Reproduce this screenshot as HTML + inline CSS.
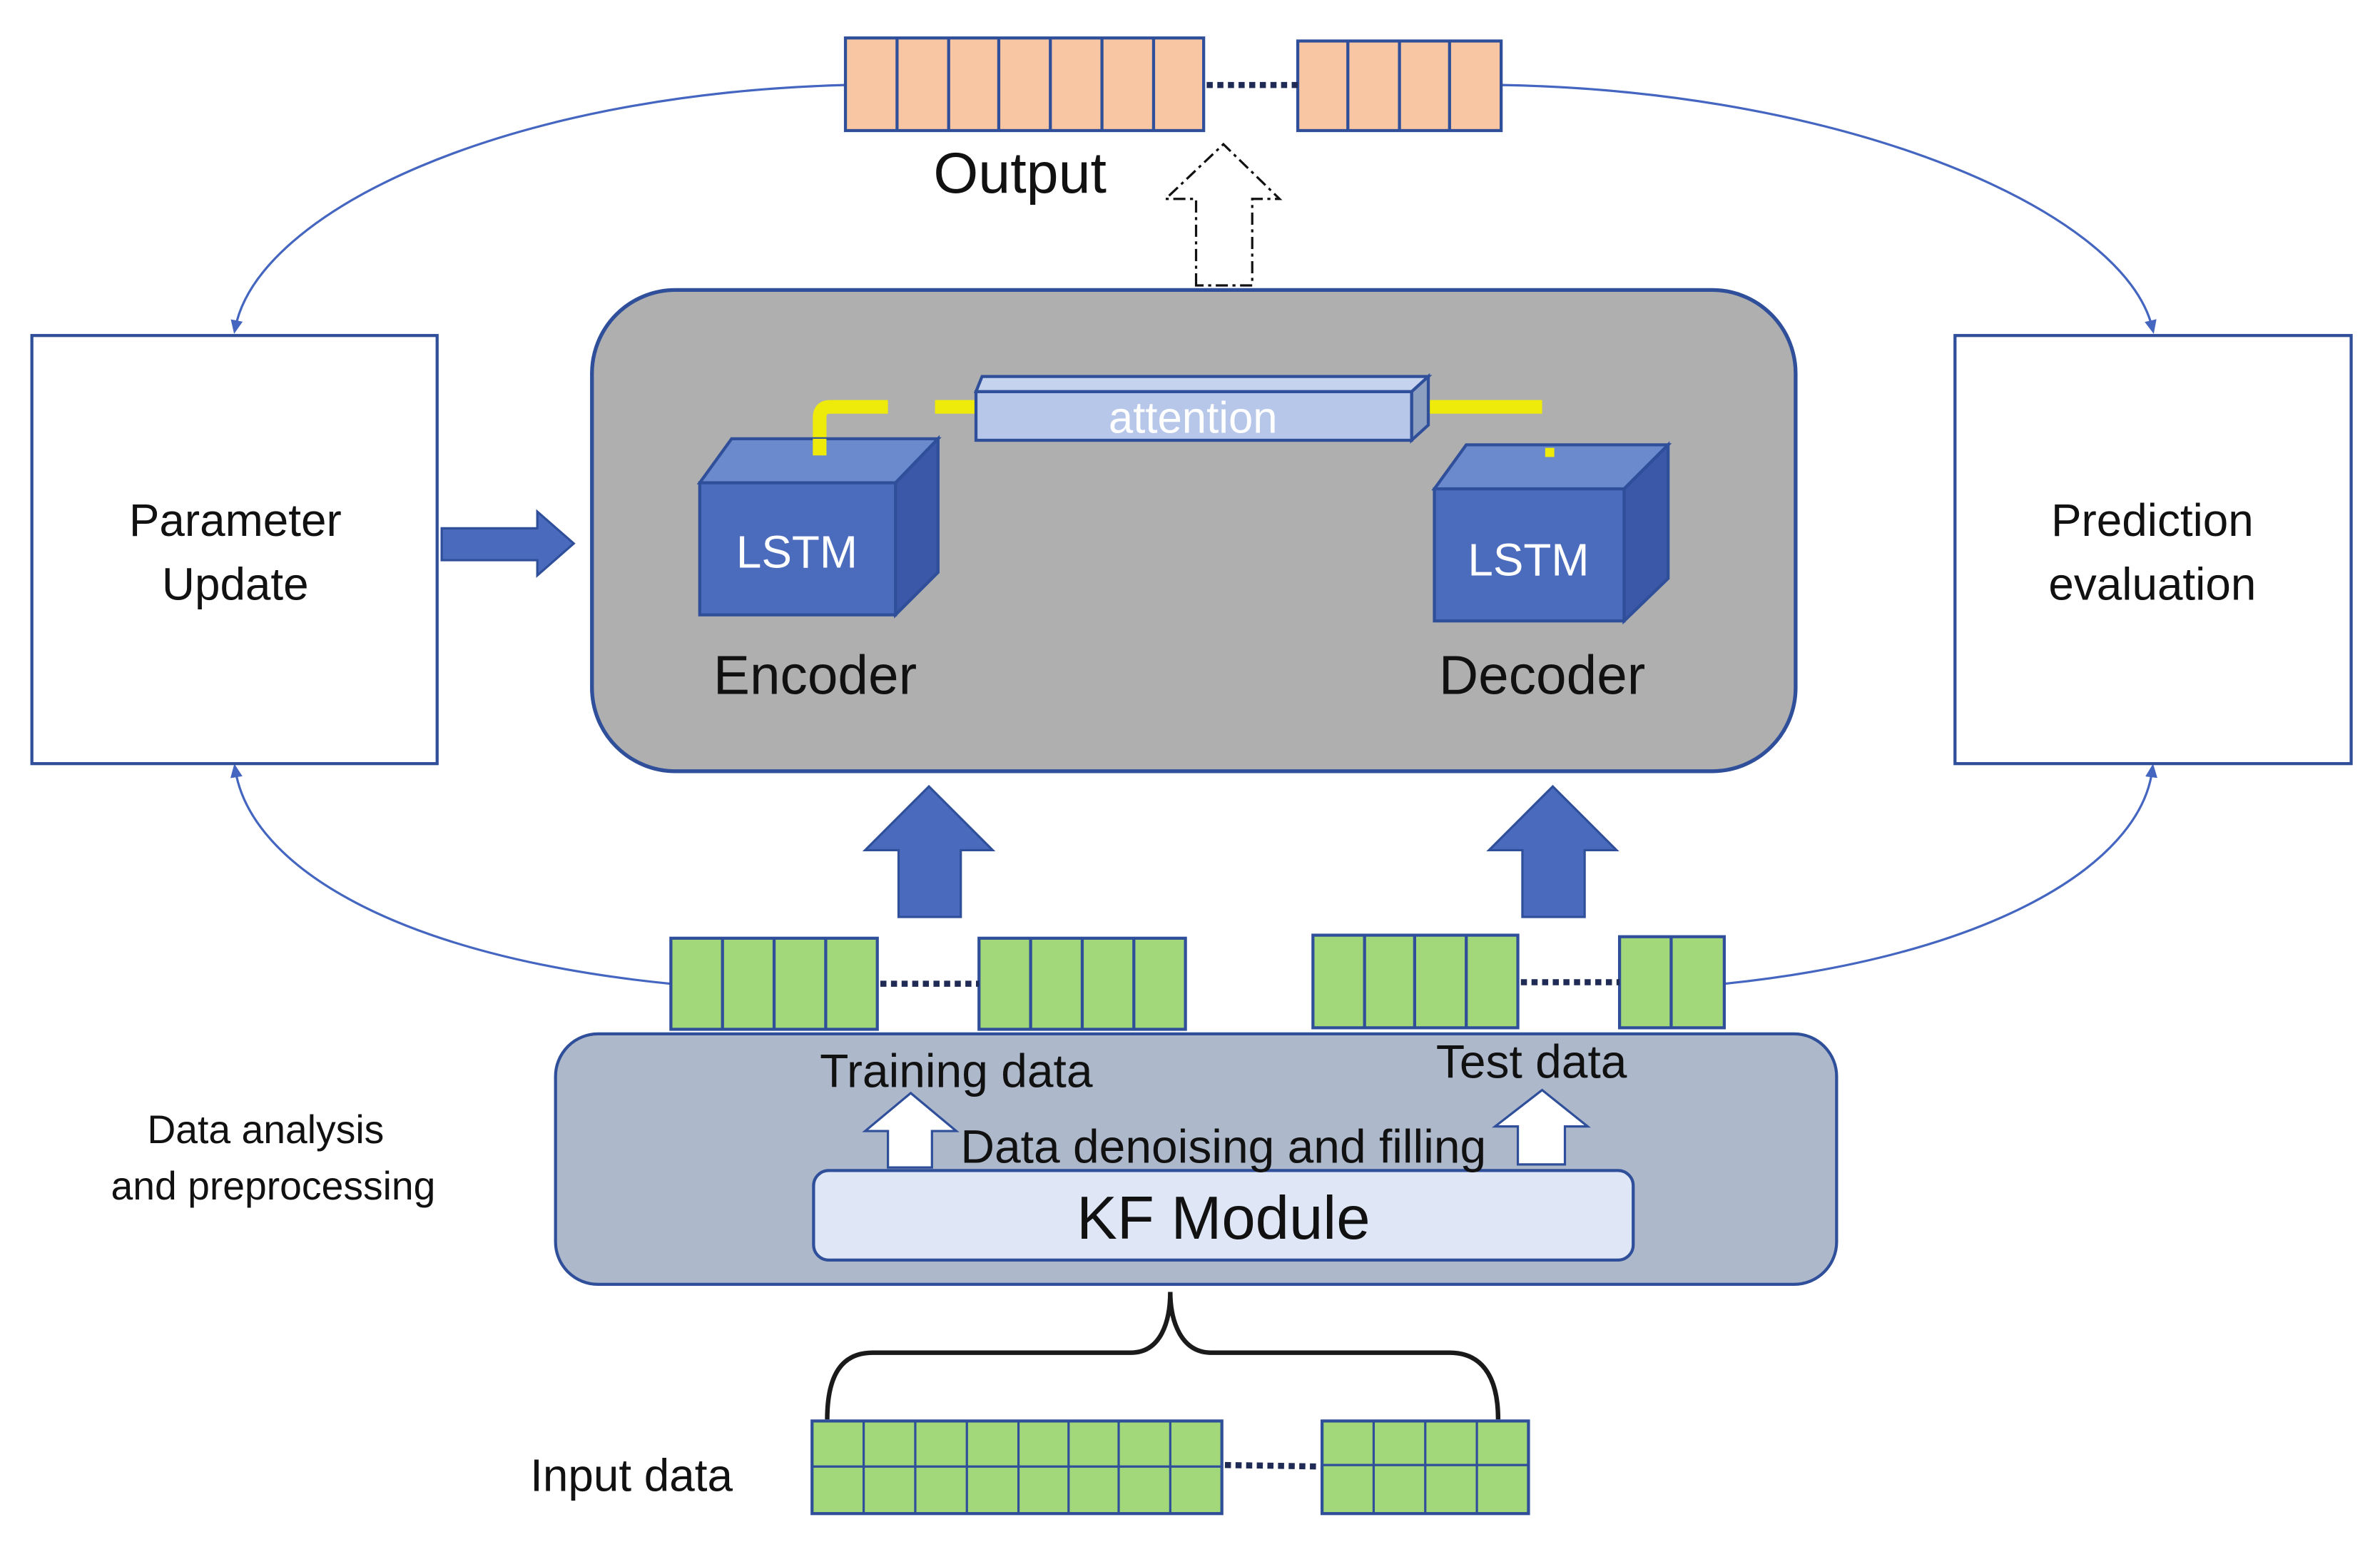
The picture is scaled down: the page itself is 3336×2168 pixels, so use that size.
<!DOCTYPE html>
<html><head><meta charset="utf-8"><style>html,body{margin:0;padding:0;background:#fff}svg{display:block}text{font-family:"Liberation Sans",sans-serif}</style></head><body>
<svg width="3336" height="2168" viewBox="0 0 1568 1019" xmlns="http://www.w3.org/2000/svg">
<defs>
<marker id="ah" markerWidth="10" markerHeight="10" refX="5" refY="5" orient="auto" markerUnits="userSpaceOnUse"><path d="M0,1 L9,5 L0,9 z" fill="#4466c0"/></marker>
</defs>
<rect width="1568" height="1019" fill="#fff"/>
<g fill="none" stroke="#4466c0" stroke-width="1.5">
<path d="M557,56 C330,62 170,140 155,216" marker-end="url(#ah)"/>
<path d="M989,56 C1220,60 1400,140 1418,216" marker-end="url(#ah)"/>
<path d="M442,648 C260,630 165,570 155,507" marker-end="url(#ah)"/>
<path d="M1136,648 C1310,630 1410,570 1418,507" marker-end="url(#ah)"/>
</g>
<g fill="#f8c6a2" stroke="#2f4f9a" stroke-width="2">
<rect x="557" y="25" width="236" height="61"/><rect x="855" y="27" width="134" height="59"/>
</g>
<g stroke="#2f4f9a" stroke-width="2">
<line x1="591" y1="25" x2="591" y2="86"/><line x1="625" y1="25" x2="625" y2="86"/><line x1="658" y1="25" x2="658" y2="86"/><line x1="692" y1="25" x2="692" y2="86"/><line x1="726" y1="25" x2="726" y2="86"/><line x1="760" y1="25" x2="760" y2="86"/>
<line x1="888" y1="27" x2="888" y2="86"/><line x1="922" y1="27" x2="922" y2="86"/><line x1="955" y1="27" x2="955" y2="86"/>
</g>
<line x1="795" y1="56" x2="855" y2="56" stroke="#1f2a55" stroke-width="4" stroke-dasharray="4,3"/>
<text x="672" y="127" font-size="38" text-anchor="middle" fill="#111">Output</text>
<path d="M788,188 L788,131 L768,131 L806,95 L843,131 L825,131 L825,188 Z" fill="#fff" stroke="#111" stroke-width="1.5" stroke-dasharray="8,3,2,3"/>
<rect x="21" y="221" width="267" height="282" fill="#fff" stroke="#2f4f9a" stroke-width="2"/>
<rect x="1288" y="221" width="261" height="282" fill="#fff" stroke="#2f4f9a" stroke-width="2"/>
<text x="155" y="353" font-size="30" text-anchor="middle" fill="#111">Parameter</text>
<text x="155" y="395" font-size="30" text-anchor="middle" fill="#111">Update</text>
<text x="1418" y="353" font-size="30" text-anchor="middle" fill="#111">Prediction</text>
<text x="1418" y="395" font-size="30" text-anchor="middle" fill="#111">evaluation</text>
<path d="M291,348 L354,348 L354,337 L378,358 L354,379 L354,369 L291,369 Z" fill="#4a6bbd" stroke="#2f4f9a" stroke-width="1.5"/>
<rect x="390" y="191" width="793" height="317" rx="55" fill="#b0afb0" stroke="#2f4f9a" stroke-width="2.5"/>
<g stroke="#eeea0a" stroke-width="9" fill="none">
<path d="M540,300 L540,275 Q540,268 547,268 L585,268"/>
<line x1="616" y1="268" x2="643" y2="268"/>
<line x1="941" y1="268" x2="1016" y2="268"/>
</g>
<path d="M643,258 L647,248 L941,248 L930,258 Z" fill="#c6d3ef" stroke="#2f4f9a" stroke-width="2"/>
<path d="M930,258 L941,248 L941,280 L930,290 Z" fill="#8d9fc0" stroke="#2f4f9a" stroke-width="2"/>
<rect x="643" y="258" width="287" height="32" fill="#b7c7ea" stroke="#2f4f9a" stroke-width="2"/>
<text x="786" y="285" font-size="29" text-anchor="middle" fill="#fff">attention</text>
<path d="M461,318 L482,289 L618,289 L590,318 Z" fill="#6b8acd" stroke="#2f4f9a" stroke-width="2"/>
<path d="M590,318 L618,289 L618,377 L590,405 Z" fill="#3b57a7" stroke="#2f4f9a" stroke-width="2"/>
<rect x="461" y="318" width="129" height="87" fill="#4b6bbc" stroke="#2f4f9a" stroke-width="2"/>
<g stroke="#eeea0a" stroke-width="9"><line x1="540" y1="289" x2="540" y2="300"/></g>
<text x="525" y="374" font-size="30" text-anchor="middle" fill="#fff">LSTM</text>
<path d="M945,322 L966,293 L1099,293 L1070,322 Z" fill="#6b8acd" stroke="#2f4f9a" stroke-width="2"/>
<path d="M1070,322 L1099,293 L1099,381 L1070,409 Z" fill="#3b57a7" stroke="#2f4f9a" stroke-width="2"/>
<rect x="945" y="322" width="125" height="87" fill="#4b6bbc" stroke="#2f4f9a" stroke-width="2"/>
<g stroke="#eeea0a" stroke-width="6"><line x1="1021" y1="295" x2="1021" y2="301"/></g>
<text x="1007" y="379" font-size="30" text-anchor="middle" fill="#fff">LSTM</text>
<text x="537" y="457" font-size="36" text-anchor="middle" fill="#111">Encoder</text>
<text x="1016" y="457" font-size="36" text-anchor="middle" fill="#111">Decoder</text>
<path d="M592,604 L592,560 L570,560 L612,518 L654,560 L633,560 L633,604 Z" fill="#4a6bbd" stroke="#2f4f9a" stroke-width="1.5"/>
<path d="M1003,604 L1003,560 L981,560 L1023,518 L1065,560 L1044,560 L1044,604 Z" fill="#4a6bbd" stroke="#2f4f9a" stroke-width="1.5"/>
<rect x="366" y="681" width="844" height="165" rx="28" fill="#adb9cb" stroke="#2f4f9a" stroke-width="2"/>
<g fill="#a2d77a" stroke="#2f4f9a" stroke-width="2">
<rect x="442" y="618" width="136" height="60"/><rect x="645" y="618" width="136" height="60"/>
<rect x="865" y="616" width="135" height="61"/><rect x="1067" y="617" width="69" height="60"/>
</g>
<g stroke="#2f4f9a" stroke-width="2">
<line x1="476" y1="618" x2="476" y2="678"/><line x1="510" y1="618" x2="510" y2="678"/><line x1="544" y1="618" x2="544" y2="678"/>
<line x1="679" y1="618" x2="679" y2="678"/><line x1="713" y1="618" x2="713" y2="678"/><line x1="747" y1="618" x2="747" y2="678"/>
<line x1="899" y1="616" x2="899" y2="677"/><line x1="932" y1="616" x2="932" y2="677"/><line x1="966" y1="616" x2="966" y2="677"/>
<line x1="1101" y1="617" x2="1101" y2="677"/>
</g>
<g stroke="#1f2a55" stroke-width="4" stroke-dasharray="4,3">
<line x1="580" y1="648" x2="645" y2="648"/><line x1="1002" y1="647" x2="1067" y2="647"/>
<line x1="807" y1="965" x2="871" y2="966"/>
</g>
<text x="630" y="716" font-size="31" text-anchor="middle" fill="#111">Training data</text>
<text x="1009" y="710" font-size="31" text-anchor="middle" fill="#111">Test data</text>
<path d="M585,769 L585,745 L570,745 L600,720 L630,745 L614,745 L614,769 Z" fill="#fff" stroke="#2f4f9a" stroke-width="1.5"/>
<path d="M1000,767 L1000,742 L985,742 L1016,718 L1046,742 L1031,742 L1031,767 Z" fill="#fff" stroke="#2f4f9a" stroke-width="1.5"/>
<rect x="536" y="771" width="540" height="59" rx="10" fill="#dfe6f5" stroke="#2f4f9a" stroke-width="2"/>
<text x="806" y="766" font-size="31" text-anchor="middle" fill="#111">Data denoising and filling</text>
<text x="806" y="816" font-size="40" text-anchor="middle" fill="#111">KF Module</text>
<text x="175" y="753" font-size="26" text-anchor="middle" fill="#111">Data analysis</text>
<text x="180" y="790" font-size="26" text-anchor="middle" fill="#111">and preprocessing</text>
<path d="M545,935 C545,905 555,891 575,891 L745,891 C765,891 771,870 771,851 C771,870 778,891 798,891 L955,891 C975,891 987,905 987,935" fill="none" stroke="#1a1a1a" stroke-width="3"/>
<g fill="#a2d77a" stroke="#2f4f9a" stroke-width="2">
<rect x="535" y="936" width="270" height="61"/><rect x="871" y="936" width="136" height="61"/>
</g>
<g stroke="#2f4f9a" stroke-width="1.5">
<line x1="535" y1="966" x2="805" y2="966"/><line x1="871" y1="965" x2="1007" y2="965"/>
<line x1="569" y1="936" x2="569" y2="997"/><line x1="603" y1="936" x2="603" y2="997"/><line x1="637" y1="936" x2="637" y2="997"/><line x1="671" y1="936" x2="671" y2="997"/><line x1="704" y1="936" x2="704" y2="997"/><line x1="737" y1="936" x2="737" y2="997"/><line x1="771" y1="936" x2="771" y2="997"/>
<line x1="905" y1="936" x2="905" y2="997"/><line x1="939" y1="936" x2="939" y2="997"/><line x1="973" y1="936" x2="973" y2="997"/>
</g>
<text x="416" y="982" font-size="30" text-anchor="middle" fill="#111">Input data</text>
</svg>
</body></html>
